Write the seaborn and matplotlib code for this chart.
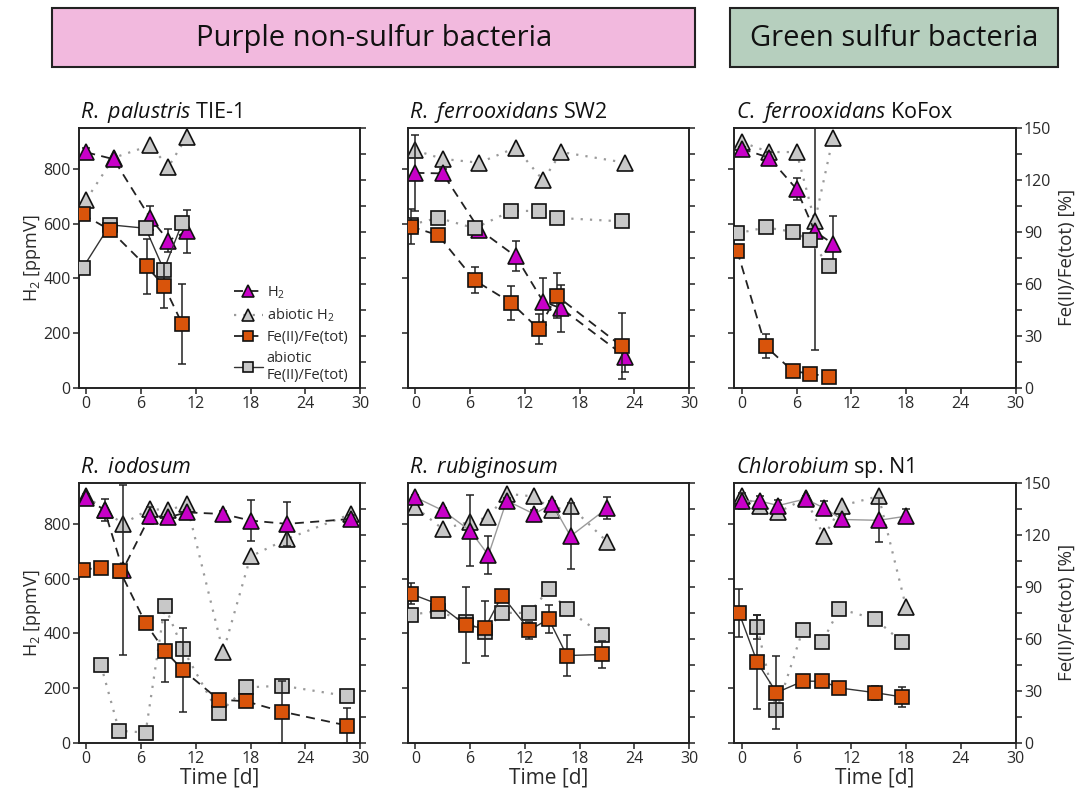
import matplotlib
matplotlib.use("Agg")
import matplotlib.pyplot as plt
import seaborn as sns
from matplotlib.patches import Rectangle
from matplotlib.ticker import MultipleLocator

# ---------------- data ----------------
# R. palustris TIE-1
pal_h2_t = [0, 3, 7, 9, 11]
pal_h2 = [860, 835, 620, 538, 571]
pal_h2_err = [15, 0, 45, 43, 80]
pal_abh2_t = [0, 3, 7, 9, 11]
pal_abh2 = [687, 840, 885, 807, 916]
pal_fe_t = [-0.4, 2.6, 6.6, 8.5, 10.5]
pal_fe = [100, 91, 70, 59, 37]
pal_fe_err = [3, 3, 16, 13, 23]
pal_abfe_t = [-0.4, 2.6, 6.5, 8.5, 10.5]
pal_abfe = [69, 94, 92, 68, 95]

# R. ferrooxidans SW2
fer_h2_t = [0, 3, 7, 11, 14, 16, 23]
fer_h2 = [785, 783, 578, 480, 315, 290, 114]
fer_h2_err = [140, 15, 15, 55, 85, 85, 55]
fer_abh2_t = [0, 3, 7, 11, 14, 16, 23]
fer_abh2 = [867, 836, 822, 877, 758, 861, 822]
fer_fe_t = [-0.5, 2.5, 6.5, 10.5, 13.5, 15.5, 22.6]
fer_fe = [93, 88, 62, 49, 34, 53, 24]
fer_fe_err = [10, 1, 7.5, 10, 8.5, 13, 19]
fer_abfe_t = [-0.5, 2.5, 6.5, 10.5, 13.5, 15.5, 22.6]
fer_abfe = [94, 98, 92, 102, 102, 98, 96]

# C. ferrooxidans KoFox
kof_h2_t = [0, 3, 6, 8, 10]
kof_h2 = [873, 840, 726, 571, 526]
kof_h2_err = [8, 20, 40, 10, 100]
kof_abh2_t = [0, 3, 6, 8, 10]
kof_abh2 = [897, 861, 861, 608, 913]
kof_abh2_err = [0, 0, 0, 470, 0]
kof_fe_t = [-0.5, 2.6, 5.6, 7.5, 9.6]
kof_fe = [79, 24, 9.6, 8.2, 6.3]
kof_fe_err = [2, 7, 1, 1, 2]
kof_abfe_t = [-0.5, 2.6, 5.6, 7.5, 9.6]
kof_abfe = [89, 92.5, 90, 85, 70]

# R. iodosum
iod_h2_t = [0, 2, 4, 7, 9, 11, 15, 18, 22, 29]
iod_h2 = [895, 850, 632, 830, 824, 842, 836, 812, 800, 818]
iod_h2_err = [15, 40, 310, 30, 10, 10, 10, 75, 80, 15]
iod_abh2_t = [0, 2, 4, 7, 9, 11, 15, 18, 22, 29]
iod_abh2 = [903, 849, 800, 855, 849, 873, 332, 681, 745, 836]
iod_fe_t = [-0.4, 1.6, 3.7, 6.5, 8.6, 10.6, 14.5, 17.5, 21.5, 28.6]
iod_fe = [100, 101, 99, 69, 53, 42, 25, 24, 18, 10]
iod_fe_err = [1, 1, 1, 2, 18, 24, 2, 1, 18, 10]
iod_abfe_t = [1.6, 3.6, 6.5, 8.6, 10.6, 14.5, 17.5, 21.5, 28.6]
iod_abfe = [45, 7, 6, 79, 54, 17, 32, 33, 27]

# R. rubiginosum
rub_h2_t = [0, 3, 6, 8, 10, 13, 15, 17, 21]
rub_h2 = [897, 849, 775, 686, 885, 836, 873, 755, 857]
rub_h2_err = [10, 10, 130, 70, 10, 15, 10, 120, 40]
rub_abh2_t = [0, 3, 6, 8, 10, 13, 15, 17, 21]
rub_abh2 = [861, 781, 808, 824, 910, 900, 852, 864, 735]
rub_fe_t = [-0.5, 2.5, 5.5, 7.6, 9.5, 12.5, 14.6, 16.6, 20.5]
rub_fe = [86, 80, 68, 66, 85, 65, 71.5, 50.4, 51]
rub_fe_err = [6, 2, 22, 16, 2, 5, 8, 12, 8]
rub_abfe_t = [-0.5, 2.5, 5.5, 7.6, 9.5, 12.5, 14.6, 16.6, 20.5]
rub_abfe = [74, 76, 70, 64, 75, 75, 88.5, 77, 62.5]

# Chlorobium sp. N1
chl_h2_t = [0, 2, 4, 7, 9, 11, 15, 18]
chl_h2 = [883, 883, 867, 891, 858, 816, 813, 828]
chl_h2_err = [30, 20, 20, 10, 25, 15, 80, 25]
chl_abh2_t = [0, 2, 4, 7, 9, 11, 15, 18]
chl_abh2 = [901, 865, 843, 893, 755, 867, 901, 496]
chl_fe_t = [-0.3, 1.7, 3.8, 6.7, 8.8, 10.7, 14.6, 17.6]
chl_fe = [75, 46.5, 29, 35.6, 35.6, 31.7, 29, 26.5]
chl_fe_err = [14, 27, 21, 1, 2, 1, 4, 6]
chl_abfe_t = [1.7, 3.8, 6.7, 8.8, 10.7, 14.6, 17.6]
chl_abfe = [66.7, 18.8, 65.4, 58, 77.3, 71.5, 58]
chl_abfe_err = [7, 0, 0, 0, 0, 0, 0]

group_labels = ["Purple non-sulfur bacteria", "Green sulfur bacteria"]
time_ticks = [0, 6, 12, 18, 24, 30]
h2_ticks = [0, 200, 400, 600, 800]
fe_ticks = [0, 30, 60, 90, 120, 150]

# ---------------- style ----------------
sns.set_theme(style="ticks")
plt.rcParams["font.family"] = ["Open Sans", "DejaVu Sans"]
plt.rcParams["mathtext.fontset"] = "custom"
plt.rcParams["mathtext.rm"] = "Open Sans"
plt.rcParams["mathtext.it"] = "Open Sans:italic"
plt.rcParams["axes.linewidth"] = 1.2

H2_COL = "#C800C8"
FE_COL = "#D9540B"
AB_COL = "#C8C8C8"
EDGE = "#111111"
TXT = "#2a2a2a"

DASH = dict(color="#222222", linestyle=(0, (5, 3.5)), lw=1.3)
DOT = dict(color="#9a9a9a", linestyle=(0, (1, 3.2)), lw=1.6)
THIN = dict(color="#9a9a9a", linestyle="-", lw=1.0)
SOLID = dict(color="#333333", linestyle="-", lw=1.0)

TRI_MS = 11.5
SQ_MS = 10


def draw_series(ax, t, y, marker, face, line, err=None, z=3):
    if err is not None:
        ax.errorbar(t, y, yerr=err, fmt="none", ecolor="#222222",
                    elinewidth=1.1, capsize=3, capthick=1.1, zorder=z - 0.5)
    ms = TRI_MS if marker == "^" else SQ_MS
    sns.lineplot(x=t, y=y, ax=ax, marker=marker, markersize=ms,
                 markerfacecolor=face, markeredgecolor=EDGE,
                 markeredgewidth=1.2, errorbar=None, zorder=z, **line)
    return ax.lines[-1]


fig = plt.figure(figsize=(10.79, 7.98), dpi=100)

col_left = [0.0732, 0.3782, 0.6807]
row_bottom = [0.514, 0.069]
w, h = 0.2605, 0.326

panels = [
    dict(title=r"$\it{R.\ palustris}$ TIE-1", row=0, col=0,
         h2=(pal_h2_t, pal_h2, pal_h2_err, DASH),
         abh2=(pal_abh2_t, pal_abh2, None, DOT),
         fe=(pal_fe_t, pal_fe, pal_fe_err, DASH),
         abfe=(pal_abfe_t, pal_abfe, None, SOLID)),
    dict(title=r"$\it{R.\ ferrooxidans}$ SW2", row=0, col=1,
         h2=(fer_h2_t, fer_h2, fer_h2_err, DASH),
         abh2=(fer_abh2_t, fer_abh2, None, DOT),
         fe=(fer_fe_t, fer_fe, fer_fe_err, DASH),
         abfe=(fer_abfe_t, fer_abfe, None, DOT)),
    dict(title=r"$\it{C.\ ferrooxidans}$ KoFox", row=0, col=2,
         h2=(kof_h2_t, kof_h2, kof_h2_err, DASH),
         abh2=(kof_abh2_t, kof_abh2, kof_abh2_err, DOT),
         fe=(kof_fe_t, kof_fe, kof_fe_err, DASH),
         abfe=(kof_abfe_t, kof_abfe, None, DOT)),
    dict(title=r"$\it{R.\ iodosum}$", row=1, col=0,
         h2=(iod_h2_t, iod_h2, iod_h2_err, DASH),
         abh2=(iod_abh2_t, iod_abh2, None, DOT),
         fe=(iod_fe_t, iod_fe, iod_fe_err, DASH),
         abfe=(iod_abfe_t, iod_abfe, None, DOT)),
    dict(title=r"$\it{R.\ rubiginosum}$", row=1, col=1,
         h2=(rub_h2_t, rub_h2, rub_h2_err, THIN),
         abh2=(rub_abh2_t, rub_abh2, None, DOT),
         fe=(rub_fe_t, rub_fe, rub_fe_err, SOLID),
         abfe=(rub_abfe_t, rub_abfe, None, DOT)),
    dict(title=r"$\it{Chlorobium}$ sp. N1", row=1, col=2,
         h2=(chl_h2_t, chl_h2, chl_h2_err, THIN),
         abh2=(chl_abh2_t, chl_abh2, None, DOT),
         fe=(chl_fe_t, chl_fe, chl_fe_err, SOLID),
         abfe=(chl_abfe_t, chl_abfe, chl_abfe_err, DOT)),
]

for p in panels:
    ax = fig.add_axes([col_left[p["col"]], row_bottom[p["row"]], w, h])
    ax2 = ax.twinx()

    t, y, e, ls = p["abh2"]
    l_abh2 = draw_series(ax, t, y, "^", AB_COL, ls, e, z=3)
    t, y, e, ls = p["h2"]
    l_h2 = draw_series(ax, t, y, "^", H2_COL, ls, e, z=4)
    t, y, e, ls = p["abfe"]
    l_abfe = draw_series(ax2, t, y, "s", AB_COL, ls, e, z=3)
    t, y, e, ls = p["fe"]
    l_fe = draw_series(ax2, t, y, "s", FE_COL, ls, e, z=4)

    ax.set_xlim(-0.8, 30)
    ax.set_ylim(0, 950)
    ax2.set_ylim(0, 150)
    ax.set_xticks(time_ticks)
    ax.set_yticks(h2_ticks)
    ax2.set_yticks(fe_ticks)
    ax2.yaxis.set_minor_locator(MultipleLocator(15))

    for a in (ax, ax2):
        a.tick_params(axis="both", which="both", direction="out", length=4,
                      width=1.1, labelsize=11.5, colors="#222222",
                      labelcolor=TXT, pad=2)
        a.set_xlabel("")
        a.set_ylabel("")
        for s in a.spines.values():
            s.set_color("#222222")
            s.set_linewidth(1.2)
            s.set_visible(True)

    if p["col"] != 0:
        ax.set_yticklabels([])
    else:
        ax.set_ylabel(r"H$_2$ [ppmV]", fontsize=13, color=TXT, labelpad=0)
    if p["col"] != 2:
        ax2.set_yticklabels([])
    else:
        ax2.set_ylabel("Fe(II)/Fe(tot) [%]", fontsize=13.5, color=TXT,
                       labelpad=5)
    if p["row"] == 1:
        ax.set_xlabel("Time [d]", fontsize=15, color=TXT, labelpad=0)

    ax.set_title(p["title"], loc="left", fontsize=15.5, color="#111111",
                 pad=7, x=0.005)

    if p["row"] == 0 and p["col"] == 0:
        handles = [l_h2, l_abh2, l_fe, l_abfe]
        labels = [r"H$_2$", r"abiotic H$_2$", "Fe(II)/Fe(tot)",
                  "abiotic\nFe(II)/Fe(tot)"]
        leg = ax2.legend(handles, labels, loc="upper left",
                         bbox_to_anchor=(0.53, 0.42), frameon=False,
                         fontsize=10.5, markerscale=0.75, handlelength=2.0,
                         handletextpad=0.25, labelspacing=0.4,
                         borderaxespad=0)
        for txt in leg.get_texts():
            txt.set_color(TXT)

# group header boxes
fig.patches.append(Rectangle((0.0482, 0.916), 0.596, 0.074,
                             transform=fig.transFigure, facecolor="#F2B9DE",
                             edgecolor="#222222", lw=1.5, zorder=0))
fig.patches.append(Rectangle((0.6766, 0.916), 0.304, 0.074,
                             transform=fig.transFigure, facecolor="#B6CFBE",
                             edgecolor="#222222", lw=1.5, zorder=0))
fig.text(0.347, 0.952, group_labels[0], ha="center", va="center",
         fontsize=21, color="#111111")
fig.text(0.8286, 0.952, group_labels[1], ha="center", va="center",
         fontsize=21, color="#111111")

fig.savefig("out.png", dpi=100, facecolor="white")
